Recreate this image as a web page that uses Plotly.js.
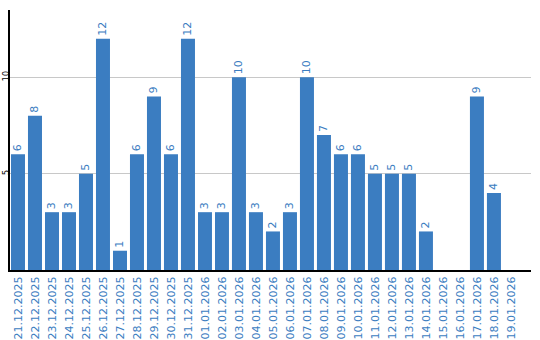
<!DOCTYPE html>
<html><head><meta charset="utf-8">
<script src="https://cdn.plot.ly/plotly-3.0.1.min.js"></script>
<style>html,body{margin:0;padding:0;background:#fff}#chart{width:540px;height:340px}</style>
</head><body><div id="chart"></div>
<script>
const dates = ["21.12.2025","22.12.2025","23.12.2025","24.12.2025","25.12.2025","26.12.2025","27.12.2025","28.12.2025","29.12.2025","30.12.2025","31.12.2025","01.01.2026","02.01.2026","03.01.2026","04.01.2026","05.01.2026","06.01.2026","07.01.2026","08.01.2026","09.01.2026","10.01.2026","11.01.2026","12.01.2026","13.01.2026","14.01.2026","15.01.2026","16.01.2026","17.01.2026","18.01.2026","19.01.2026"];
const counts = [6,8,3,3,5,12,1,6,9,6,12,3,3,10,3,2,3,10,7,6,6,5,5,5,2,null,null,9,4,null];
const yTicks = [5,10];

const blue = "#3b7dc1";
Plotly.newPlot("chart", [{
  type: "bar",
  x: dates,
  y: counts,
  marker: {color: blue},
  text: counts.map(v => v === null ? "" : String(v)),
  textposition: "outside",
  textangle: -90,
  cliponaxis: false,
  textfont: {family: "DejaVu Sans", size: 11, color: blue},
  hoverinfo: "none"
}], {
  width: 540, height: 340,
  margin: {l: 10, r: 9, t: 10, b: 70, pad: 0},
  paper_bgcolor: "#fff", plot_bgcolor: "#fff",
  bargap: 0.176,
  showlegend: false,
  xaxis: {
    type: "category",
    range: [-0.47, 30.18],
    tickangle: -90,
    tickfont: {family: "DejaVu Sans", size: 11, color: blue},
    showline: true, linecolor: "#000", linewidth: 2,
    showgrid: false, ticks: "", automargin: false,
    fixedrange: true
  },
  yaxis: {
    range: [0, 13.49],
    tickvals: yTicks,
    ticktext: yTicks.map(String),
    tickangle: -90,
    tickfont: {family: "DejaVu Sans", size: 8, color: "#000"},
    showline: true, linecolor: "#000", linewidth: 2,
    showgrid: true, gridcolor: "#c8c8c8", gridwidth: 1,
    zeroline: false, ticks: "", ticklabelstandoff: -4,
    automargin: false, fixedrange: true
  }
}, {displayModeBar: false, staticPlot: true});
</script></body></html>
